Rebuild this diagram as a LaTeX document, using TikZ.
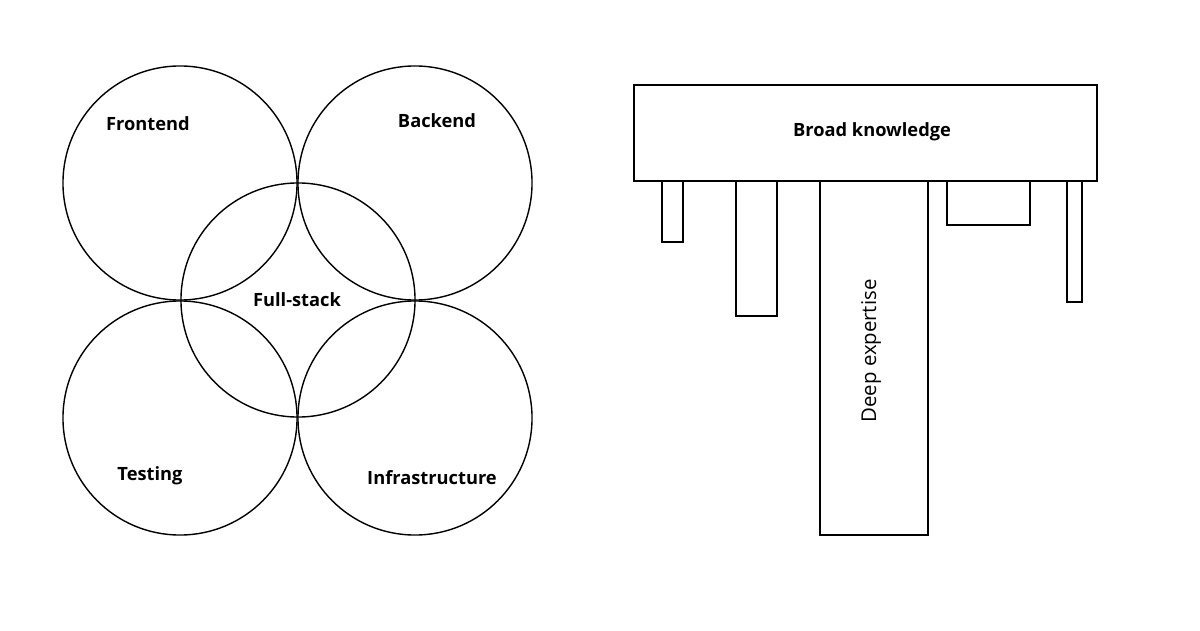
\documentclass[tikz,border=0pt]{standalone}
\usepackage{fontspec}
\setmainfont{Open Sans}
\usetikzlibrary{positioning}
\tikzstyle{area} = [circle, minimum size=5.85cm, inner sep=0pt, draw=black, line width=1pt]
\tikzstyle{label} = [font=\fontsize{13}{15}\selectfont\bfseries, inner sep=0pt]
\tikzstyle{broad} = [rectangle, anchor=north west, inner sep=0pt, draw=black, line width=1.3pt]
\tikzstyle{deep} = [rectangle, anchor=north west, inner sep=0pt, draw=black, line width=1.3pt]

\begin{document}
\begin{tikzpicture}[x=0.025cm, y=-0.025cm]
	\useasboundingbox (0,0) rectangle (1200,630);

	% skill areas
	\node (front) [area] at (180,183) {};
	\node (back) [area] at (415,183) {};
	\node (full) [area] at (298,300) {};
	\node (test) [area] at (180,418) {};
	\node (infra) [area] at (415,418) {};

	\node (frontlbl) [label] at (148,124) {Frontend};
	\node (backlbl) [label] at (437,121) {Backend};
	\node (fulllbl) [label] at (297,300) {Full-stack};
	\node (testlbl) [label] at (150,476) {Testing};
	\node (infralbl) [label] at (432,478) {Infrastructure};

	% T-shape
	\node (top) [broad, minimum width=11.58cm, minimum height=2.4cm] at (633,84) {};
	\node (toplbl) [label] at (872,132) {Broad knowledge};

	\node (bar1) [deep, minimum width=0.53cm, minimum height=1.53cm] at (661,180) {};
	\node (bar2) [deep, minimum width=1.03cm, minimum height=3.38cm] at (735,180) {};
	\node (bar3) [deep, minimum width=2.7cm, minimum height=8.85cm] at (819,180) {};
	\node (bar4) [deep, minimum width=2.08cm, minimum height=1.1cm] at (946,180) {};
	\node (bar5) [deep, minimum width=0.38cm, minimum height=3.03cm] at (1066,180) {};

	\node (deeplbl) [label, font=\fontsize{14.5}{16}\selectfont, rotate=90] at (871,351) {Deep expertise};
\end{tikzpicture}
\end{document}
